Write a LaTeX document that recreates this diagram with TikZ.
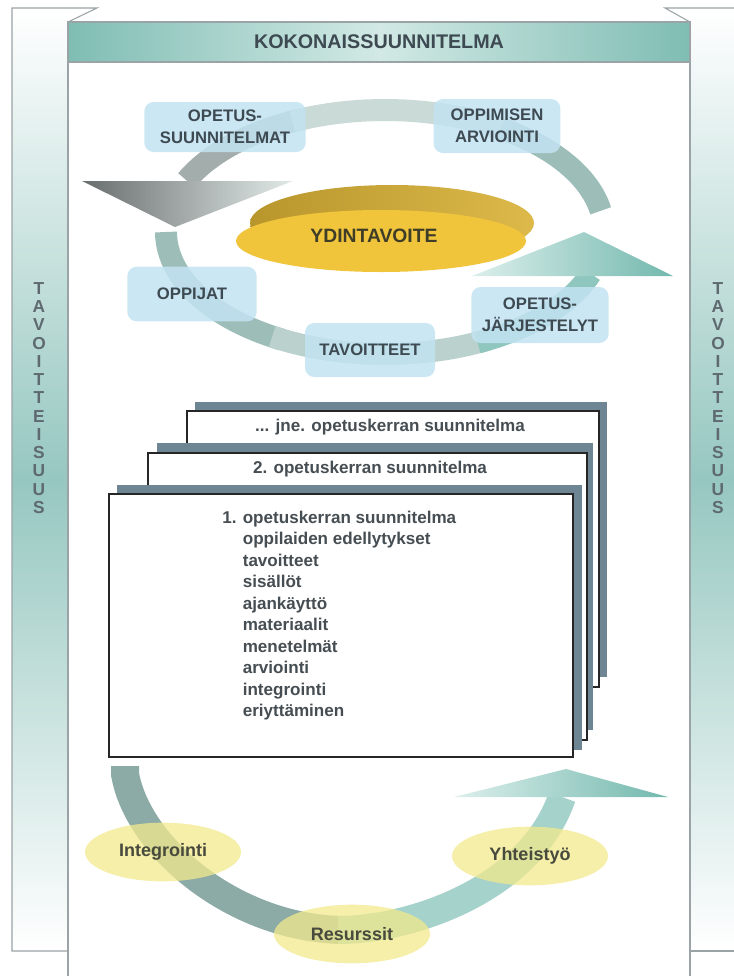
\documentclass[tikz,border=0pt]{standalone}
\usepackage{fontspec}
\setmainfont{Liberation Sans}
\usetikzlibrary{shapes.geometric,positioning}

\definecolor{frameline}{HTML}{9AA3A6}
\definecolor{sidebar}{HTML}{96C7C0}
\definecolor{sidetext}{HTML}{5E6A70}
\definecolor{headteal}{HTML}{7FBDB3}
\definecolor{headlight}{HTML}{D2E9E5}
\definecolor{boxblue}{HTML}{C2E3F2}
\definecolor{labeltext}{HTML}{3E4A52}
\definecolor{sheetshadow}{HTML}{6E8694}
\definecolor{sheettext}{HTML}{464E53}
\definecolor{bandgray}{HTML}{A3ADAC}
\definecolor{bandpale}{HTML}{C9DAD7}
\definecolor{bandteal}{HTML}{9CBDB8}
\definecolor{bandsea}{HTML}{8FC7BE}
\definecolor{arrowdark}{HTML}{686E6E}
\definecolor{arrowlight}{HTML}{E2EAE8}
\definecolor{arrowsea}{HTML}{72B8AD}
\definecolor{arrowfoam}{HTML}{DCEFEC}
\definecolor{discrim}{HTML}{B8962C}
\definecolor{discedge}{HTML}{DDB94A}
\definecolor{discface}{HTML}{F0C53C}
\definecolor{discword}{HTML}{3F3C28}
\definecolor{paleyellow}{HTML}{F2E98C}
\definecolor{yellowtext}{HTML}{474A3C}

\tikzset{%
	frame/.style      = {draw=frameline, line width=0.8pt},
	headtext/.style   = {text=labeltext, font=\bfseries\fontsize{14.8}{18}\selectfont},
	sidestack/.style  = {text=sidetext, align=center, font=\bfseries\fontsize{13}{13.7}\selectfont},
	cyclebox/.style   = {fill=boxblue, fill opacity=0.85, text opacity=1, rounded corners=7pt, inner sep=0pt, align=center, text=labeltext, font=\bfseries\fontsize{12.5}{16.5}\selectfont},
	band/.style       = {line width=16.5pt, line join=round},
	uband/.style      = {line width=21pt, line join=round},
	sheet/.style      = {draw=black!85, fill=white, line width=0.9pt},
	shadowpage/.style = {fill=sheetshadow},
	sheetline/.style  = {text=sheettext, font=\bfseries\fontsize{12.8}{16.1}\selectfont},
	bubble/.style     = {ellipse, fill=paleyellow, fill opacity=0.75, text opacity=1, text=yellowtext, minimum width=117pt, minimum height=44pt, inner sep=0pt, font=\bfseries\fontsize{13.5}{16}\selectfont},
}

\begin{document}
\begin{tikzpicture}[x=0.75pt,y=-0.75pt]
	\useasboundingbox (0,0) rectangle (734,976);

	% side columns
	\shade[top color=white,bottom color=white,middle color=sidebar] (12,8) rectangle (68,951);
	\shade[top color=white,bottom color=white,middle color=sidebar] (690,8) rectangle (734,951);
	\draw[frame] (68,22) -- (97,8) -- (12,8) -- (12,951) -- (68,951);
	\draw[frame] (690,22) -- (665,8) -- (734,8);
	\draw[frame] (690,951) -- (734,951);
	\node[sidestack] (goalleft) at (39,398) {T\\A\\V\\O\\I\\T\\T\\E\\I\\S\\U\\U\\S};
	\node[sidestack] (goalright) at (718,398) {T\\A\\V\\O\\I\\T\\T\\E\\I\\S\\U\\U\\S};

	% panel and header
	\draw[frame] (68,22) -- (68,976);
	\draw[frame] (690,22) -- (690,976);
	\shade[left color=headteal,right color=headteal,middle color=headlight] (68,22) rectangle (690,62);
	\draw[frame] (68,22) rectangle (690,62);
	\node[headtext] (head) at (379,42) {KOKONAISSUUNNITELMA};

	% cycle around the core goal
	\draw[band,draw=bandgray] plot[domain=-155:-112] ({385+219*cos(\x)},{232+122*sin(\x)});
	\draw[band,draw=bandpale] plot[domain=-115:-55] ({385+219*cos(\x)},{232+122*sin(\x)});
	\draw[band,draw=bandteal] plot[domain=-58:-10] ({385+219*cos(\x)},{232+122*sin(\x)});
	\draw[band,draw=bandteal] plot[domain=180:118] ({385+219*cos(\x)},{232+122*sin(\x)});
	\draw[band,draw=bandpale!70!bandteal] plot[domain=121:62] ({385+219*cos(\x)},{232+122*sin(\x)});
	\draw[band,draw=bandsea] plot[domain=65:20] ({385+219*cos(\x)},{232+122*sin(\x)});
	\shade[left color=arrowdark,right color=arrowlight] (82,181) -- (293,181) -- (175,227) -- cycle;
	\shade[left color=arrowfoam,right color=arrowsea] (472,276) -- (584,232) -- (673,276) -- cycle;

	\shade[left color=discrim,right color=discedge] (392,223) ellipse [x radius=142, y radius=38];
	\fill[discface] (381,241) ellipse [x radius=145, y radius=31];
	\node[text=discword,font=\bfseries\fontsize{14.5}{17}\selectfont] (core) at (374,236) {YDINTAVOITE};

	\node[cyclebox,minimum width=121pt,minimum height=37.5pt] (curricula) at (225,127) {OPETUS-\\SUUNNITELMAT};
	\node[cyclebox,minimum width=95pt,minimum height=40.5pt] (assess) at (497,126) {OPPIMISEN\\ARVIOINTI};
	\node[cyclebox,minimum width=97pt,minimum height=41pt] (learners) at (192,294) {OPPIJAT};
	\node[cyclebox,minimum width=97.5pt,minimum height=40.5pt] (aims) at (370,350) {TAVOITTEET};
	\node[cyclebox,minimum width=103pt,minimum height=42pt] (arrange) at (540,315) {OPETUS-\\JÄRJESTELYT};

	% stack of lesson plans
	\fill[shadowpage] (195,402) rectangle (607,677);
	\draw[sheet] (187,411) rectangle (599,687);
	\node[sheetline] (plan3) at (390,427) {... jne. opetuskerran suunnitelma};
	\fill[shadowpage] (157,443) rectangle (593,730);
	\draw[sheet] (148,453) rectangle (587,740);
	\node[sheetline] (plan2) at (370,469) {2. opetuskerran suunnitelma};
	\fill[shadowpage] (117,485) rectangle (582,750);
	\draw[sheet] (109,494) rectangle (573,757);
	\node[sheetline,anchor=north west,inner sep=0pt] (plan1) at (222,508) {%
		\begin{tabular}{@{}r@{ }l@{}}
			1. & opetuskerran suunnitelma\\
			& oppilaiden edellytykset\\
			& tavoitteet\\
			& sisällöt\\
			& ajankäyttö\\
			& materiaalit\\
			& menetelmät\\
			& arviointi\\
			& integrointi\\
			& eriyttäminen
		\end{tabular}};

	% lower arc
	\draw[uband,draw=bandteal!90!black] (125,766) -- (125,774) .. controls (138,848) and (235,928) .. (342,930);
	\draw[uband,draw=bandsea!80!white] (338,930) .. controls (410,930) and (530,890) .. (562,797);
	\shade[left color=arrowfoam,right color=arrowsea] (454,797) -- (566,769) -- (668,797) -- cycle;

	\node[bubble] (integ) at (163,852) {Integrointi};
	\node[bubble] (coop) at (530,856) {Yhteistyö};
	\node[bubble] (resources) at (352,934) {Resurssit};
\end{tikzpicture}
\end{document}
